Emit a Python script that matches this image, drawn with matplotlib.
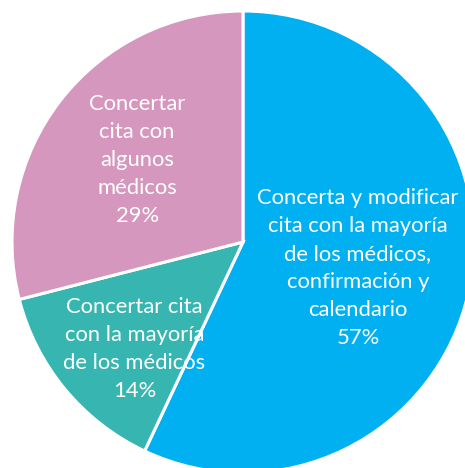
import numpy as np
import matplotlib.pyplot as plt

labels = [
    "Concerta y modificar\ncita con la mayoría\nde los médicos,\nconfirmación y\ncalendario",
    "Concertar cita\ncon la mayoría\nde los médicos",
    "Concertar\ncita con\nalgunos\nmédicos",
]
values = [57, 14, 29]
colors = ["#00B0F0", "#37B5B0", "#D597BE"]

# label placement: fraction of radius, and angle nudge (deg) from wedge middle
label_dist = [0.51, 0.66, 0.58]
label_turn = [0, 5, 0]

fig = plt.figure(figsize=(4.65, 4.68), dpi=100)
ax = fig.add_axes([0, 0, 1, 1])

wedges, _ = ax.pie(values, colors=colors, startangle=90, counterclock=False,
                   radius=1.0, wedgeprops=dict(edgecolor="white", linewidth=2.2))

# pie is clipped on the right/bottom like the original
r_px = 231.0
ax.set_xlim(-243 / r_px, (465 - 243) / r_px)
ax.set_ylim(-(468 - 242) / r_px, 242 / r_px)
ax.set_aspect("equal", adjustable="box")
ax.axis("off")

for w, lab, v, d, t in zip(wedges, labels, values, label_dist, label_turn):
    ang = np.deg2rad((w.theta1 + w.theta2) / 2 + t)
    ax.text(d * np.cos(ang), d * np.sin(ang), f"{lab}\n{v}%",
            ha="center", va="center", color="white", fontsize=15.8,
            family="Lato", linespacing=1.5)

fig.savefig("out.png", dpi=100)
